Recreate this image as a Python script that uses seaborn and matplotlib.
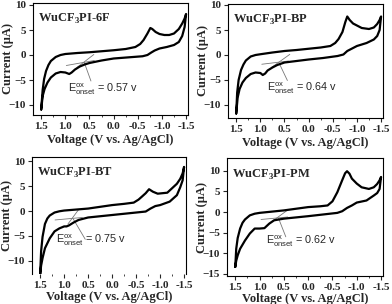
import numpy as np
import pandas as pd
import matplotlib
matplotlib.use("Agg")
import matplotlib.pyplot as plt
import seaborn as sns
from matplotlib.ticker import MultipleLocator

sns.set_style("ticks")
plt.rcParams["mathtext.fontset"] = "custom"
plt.rcParams["mathtext.rm"] = "Liberation Sans"
plt.rcParams["mathtext.bf"] = "Liberation Serif:bold"

# ---- data: loop goes upper branch (1.5 -> -1.5) then lower branch back ----
v_6f = [1.5, 1.47, 1.44, 1.4, 1.35, 1.3, 1.2, 1.1, 1.0, 0.75, 0.5, 0.25, 0.0, -0.25, -0.45, -0.55, -0.62,
        -0.7, -0.76, -0.8, -0.87, -0.95, -1.05, -1.15, -1.25, -1.35, -1.42, -1.47, -1.5,
        -1.47, -1.42, -1.35, -1.25, -1.1, -0.95, -0.85, -0.78, -0.7, -0.6, -0.4, -0.2, 0.0, 0.25, 0.5,
        0.6, 0.7, 0.8, 0.87, 0.92, 1.0, 1.1, 1.2, 1.3, 1.37, 1.43, 1.47, 1.5]
i_6f = [-10.9, -7.0, -4.8, -3.2, -2.0, -1.2, -0.4, 0.0, 0.2, 0.4, 0.55, 0.75, 0.95, 1.2, 1.6, 2.2, 3.0,
        4.3, 5.4, 5.2, 4.6, 4.2, 4.0, 4.0, 4.3, 5.2, 6.3, 7.3, 8.2,
        5.6, 3.8, 2.6, 2.0, 1.6, 1.3, 0.9, 0.5, 0.0, -0.25, -0.4, -0.55, -0.7, -1.1, -1.6,
        -1.9, -2.3, -2.9, -3.5, -3.8, -3.5, -3.4, -3.7, -4.5, -5.5, -6.8, -8.2, -10.9]

v_bp = [1.5, 1.48, 1.45, 1.4, 1.35, 1.3, 1.2, 1.1, 1.0, 0.75, 0.5, 0.25, 0.0, -0.25, -0.45, -0.55, -0.62,
        -0.7, -0.76, -0.8, -0.85, -0.92, -1.0, -1.1, -1.25, -1.35, -1.42, -1.47, -1.5,
        -1.47, -1.42, -1.35, -1.2, -1.0, -0.9, -0.8, -0.72, -0.6, -0.3, 0.0, 0.25, 0.5, 0.65,
        0.75, 0.85, 0.9, 0.95, 1.0, 1.1, 1.2, 1.3, 1.37, 1.43, 1.47, 1.5]
i_bp = [-11.7, -7.5, -5.0, -3.0, -1.9, -1.1, -0.3, 0.0, 0.15, 0.5, 0.8, 1.0, 1.25, 1.5, 1.8, 2.4, 3.2,
        4.6, 6.6, 7.7, 7.0, 6.3, 5.9, 5.4, 5.2, 5.5, 6.2, 7.0, 7.7,
        5.0, 3.8, 3.1, 2.4, 1.8, 1.3, 0.8, 0.1, -0.2, -0.6, -0.9, -1.2, -1.5, -2.0,
        -2.5, -3.1, -3.7, -4.0, -3.6, -3.5, -3.8, -4.6, -5.5, -6.8, -8.5, -11.7]

v_bt = [1.5, 1.48, 1.45, 1.4, 1.35, 1.3, 1.2, 1.1, 1.0, 0.75, 0.5, 0.25, 0.0, -0.25, -0.45, -0.55, -0.62,
        -0.7, -0.77, -0.85, -0.95, -1.05, -1.15, -1.25, -1.35, -1.42, -1.47, -1.5,
        -1.47, -1.42, -1.35, -1.2, -1.0, -0.9, -0.8, -0.7, -0.5, -0.25, 0.0, 0.25, 0.5, 0.7,
        0.8, 0.9, 0.95, 1.0, 1.1, 1.2, 1.3, 1.4, 1.45, 1.48, 1.5]
i_bt = [-12.8, -8.1, -5.2, -2.6, -1.5, -0.9, -0.3, -0.05, 0.1, 0.3, 0.5, 0.85, 1.2, 1.45, 1.7, 2.3, 2.9,
        3.6, 4.4, 3.9, 3.5, 3.6, 3.7, 4.6, 5.5, 6.5, 7.6, 8.9,
        6.2, 4.8, 3.2, 1.9, 1.2, 1.0, 0.5, -0.1, -0.3, -0.55, -0.8, -1.05, -1.3, -1.8,
        -2.3, -2.9, -3.1, -3.1, -3.5, -4.1, -5.5, -7.5, -9.5, -11.0, -12.8]

v_pm = [1.5, 1.48, 1.45, 1.4, 1.35, 1.3, 1.2, 1.1, 1.0, 0.75, 0.5, 0.25, 0.0, -0.25, -0.4, -0.5, -0.6,
        -0.7, -0.76, -0.8, -0.85, -0.9, -1.0, -1.1, -1.25, -1.35, -1.42, -1.47, -1.5,
        -1.47, -1.42, -1.35, -1.2, -1.0, -0.9, -0.8, -0.7, -0.6, -0.3, 0.0, 0.25, 0.5, 0.7,
        0.8, 0.9, 1.0, 1.1, 1.2, 1.3, 1.4, 1.45, 1.48, 1.5]
i_pm = [-13.3, -8.9, -6.3, -4.0, -2.6, -1.8, -0.8, -0.4, -0.2, 0.1, 0.4, 0.8, 1.2, 1.4, 1.6, 2.6, 4.8,
        7.7, 9.4, 9.9, 9.3, 8.1, 6.9, 6.0, 5.6, 6.0, 6.8, 7.7, 8.5,
        5.6, 4.6, 4.0, 2.8, 2.3, 1.6, 1.0, 0.2, -0.2, -0.6, -1.0, -1.3, -1.6, -2.0,
        -2.8, -3.9, -4.0, -4.0, -5.2, -6.9, -8.9, -10.5, -11.8, -13.3]

names = ["WuCF$_\\mathbf{3}$PI-6F", "WuCF$_\\mathbf{3}$PI-BP",
         "WuCF$_\\mathbf{3}$PI-BT", "WuCF$_\\mathbf{3}$PI-PM"]
onset_values = ["0.57", "0.64", "0.75", "0.62"]

# onset construction lines (baseline and tangent), in data units
base_v = [[0.98, 0.40], [0.97, 0.42], [1.19, 0.62], [0.97, 0.42]]
base_i = [[-2.1, -1.1], [-1.85, -1.2], [-1.8, -1.3], [-1.8, -1.2]]
tan_v = [[0.76, 0.41], [0.77, 0.39], [0.92, 0.70], [0.78, 0.42]]
tan_i = [[-2.5, 0.1], [-2.5, 0.13], [-2.6, 0.27], [-2.6, 0.5]]
pointer_v = [[0.61, 0.47], [0.61, 0.44], [0.81, 0.56], [0.61, 0.46]]
pointer_i = [[-1.45, -5.2], [-1.65, -5.1], [-1.6, -5.7], [-1.5, -6.0]]
label_v = [0.95, 0.86, 1.16, 0.86]
label_i = [-6.9, -6.6, -5.9, -7.0]

ylims = [(-12.0, 10.4), (-12.6, 10.2), (-12.7, 10.9), (-15.5, 13.1)]
yticks = [[-10, -5, 0, 5, 10], [-10, -5, 0, 5, 10], [-10, -5, 0, 5, 10], [-15, -10, -5, 0, 5, 10]]
xticks = [1.5, 1.0, 0.5, 0.0, -0.5, -1.0, -1.5]

curves = [(v_6f, i_6f), (v_bp, i_bp), (v_bt, i_bt), (v_pm, i_pm)]

W, H = 392, 304
boxes = [(33, 3, 188, 115), (228, 4, 383, 118), (32, 157, 186, 274), (227, 158, 383, 276)]
xlabel_pads = [2.5, 2.5, 1.0, 1.0]

fig = plt.figure(figsize=(W / 100, H / 100), dpi=100)
serif = "Liberation Serif"

for k in range(4):
    x0, y0, x1, y1 = boxes[k]
    ax = fig.add_axes([x0 / W, 1 - y1 / H, (x1 - x0) / W, (y1 - y0) / H])
    v, cur = curves[k]
    df = pd.DataFrame({"v": v, "i": cur})
    sns.lineplot(data=df, x="v", y="i", sort=False, estimator=None, color="black",
                 lw=1.6, ax=ax, zorder=3)
    ax.plot(base_v[k], base_i[k], color="#777777", lw=0.6, zorder=2)
    ax.plot(tan_v[k], tan_i[k], color="#777777", lw=0.6, zorder=2)
    ax.plot(pointer_v[k], pointer_i[k], color="#777777", lw=0.6, zorder=2)
    ax.text(label_v[k], label_i[k],
            "$\\mathrm{E}_{\\mathrm{onset}}^{\\mathrm{ox}}$ = " + onset_values[k] + " v",
            fontsize=7.8, family="Liberation Sans", va="center", ha="left")
    ax.text(0.03, 0.92, names[k], transform=ax.transAxes, fontsize=9,
            fontweight="bold", family=serif, va="top", ha="left")

    ax.set_xlim(1.67, -1.54)
    ax.set_ylim(*ylims[k])
    ax.set_xticks(xticks)
    ax.set_xticklabels([f"{t:.1f}" for t in xticks])
    ax.set_yticks(yticks[k])
    ax.xaxis.set_minor_locator(MultipleLocator(0.25))
    ax.tick_params(axis="both", which="major", length=3, width=0.8, pad=2, labelsize=8)
    ax.tick_params(axis="x", which="minor", length=1.5, width=0.6)
    for lab in ax.get_xticklabels() + ax.get_yticklabels():
        lab.set_family(serif)
        lab.set_fontweight("bold")
    ax.set_xlabel("Voltage (V vs. Ag/AgCl)", fontsize=9, fontweight="bold", family=serif,
                  labelpad=xlabel_pads[k])
    ax.set_ylabel("Current (\u03bcA)", fontsize=9, fontweight="bold", family=serif)
    ax.yaxis.set_label_coords(-0.125, 0.5)
    for s in ax.spines.values():
        s.set_linewidth(0.8)
        s.set_color("black")
    if k == 2:
        ax.spines["bottom"].set_visible(False)

fig.savefig("out.png", dpi=100)
